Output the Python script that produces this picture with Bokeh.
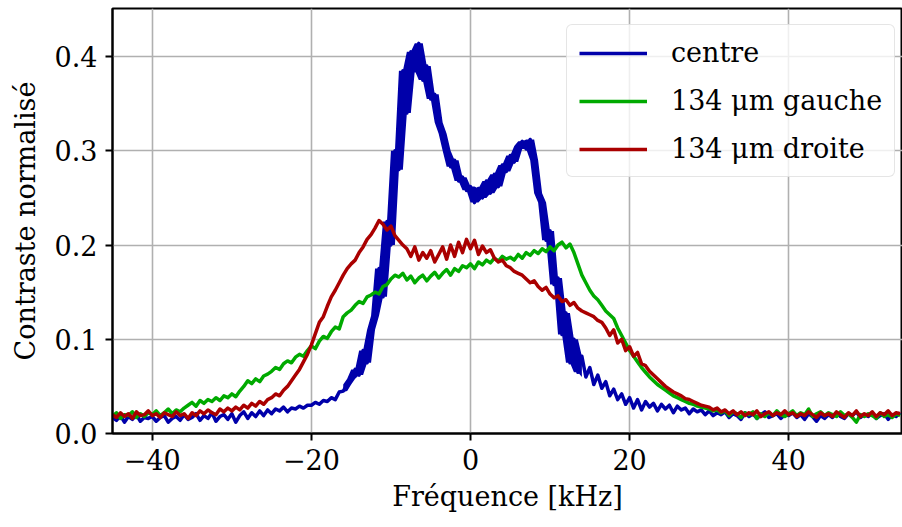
import numpy as np
from bokeh.plotting import figure
from bokeh.models import FixedTicker, ColumnDataSource
from bokeh.embed import file_html
from bokeh.resources import INLINE

# Frequency grid (kHz), sampled every 0.5 kHz from -45 to 54
freq = np.arange(-45.0, 54.001, 0.5)

centre = [
    0.017, 0.014, 0.019, 0.012, 0.018, 0.015, 0.020, 0.013, 0.017, 0.016,
    0.018, 0.013, 0.017, 0.019, 0.012, 0.016, 0.018, 0.014, 0.020, 0.015,
    0.017, 0.021, 0.014, 0.019, 0.016, 0.022, 0.013, 0.018, 0.020, 0.015,
    0.021, 0.012, 0.019, 0.023, 0.016, 0.022, 0.018, 0.024, 0.019, 0.025,
    0.021, 0.026, 0.024, 0.028, 0.023, 0.027, 0.026, 0.029, 0.027, 0.030,
    0.030, 0.033, 0.031, 0.035, 0.034, 0.038, 0.036, 0.044, 0.045, 0.052,
    0.058, 0.068, 0.062, 0.088, 0.075, 0.110, 0.125, 0.175, 0.145, 0.225,
    0.200, 0.300, 0.280, 0.385, 0.340, 0.405, 0.385, 0.414, 0.375, 0.390,
    0.355, 0.360, 0.330, 0.318, 0.300, 0.283, 0.290, 0.268, 0.272, 0.258,
    0.262, 0.245, 0.260, 0.250, 0.268, 0.255, 0.275, 0.262, 0.285, 0.278,
    0.295, 0.288, 0.305, 0.310, 0.302, 0.312, 0.290, 0.255, 0.245, 0.205,
    0.215, 0.158, 0.165, 0.105, 0.128, 0.075, 0.100, 0.065, 0.082, 0.060,
    0.070, 0.052, 0.062, 0.048, 0.055, 0.040, 0.047, 0.036, 0.042, 0.031,
    0.038, 0.027, 0.036, 0.025, 0.034, 0.028, 0.032, 0.024, 0.031, 0.026,
    0.030, 0.022, 0.029, 0.025, 0.027, 0.021, 0.026, 0.023, 0.025, 0.020,
    0.024, 0.019, 0.022, 0.020, 0.023, 0.017, 0.021, 0.019, 0.015, 0.022,
    0.018, 0.021, 0.016, 0.020, 0.023, 0.017, 0.019, 0.021, 0.016, 0.020,
    0.019, 0.022, 0.017, 0.020, 0.015, 0.021, 0.018, 0.013, 0.019, 0.016,
    0.020, 0.017, 0.022, 0.018, 0.016, 0.021, 0.019, 0.023, 0.017, 0.020,
    0.018, 0.022, 0.016, 0.019, 0.021, 0.015, 0.020, 0.018, 0.022,
]

gauche = [
    0.018, 0.022, 0.016, 0.020, 0.019, 0.023, 0.017, 0.021, 0.018, 0.022,
    0.020, 0.024, 0.019, 0.022, 0.026, 0.021, 0.025, 0.023, 0.027, 0.030,
    0.033, 0.029, 0.035, 0.032, 0.036, 0.034, 0.038, 0.035, 0.040, 0.038,
    0.042, 0.039, 0.045, 0.050, 0.056, 0.053, 0.058, 0.055, 0.061, 0.063,
    0.066, 0.070, 0.068, 0.074, 0.077, 0.075, 0.081, 0.084, 0.082, 0.088,
    0.093, 0.090, 0.098, 0.103, 0.101, 0.108, 0.113, 0.111, 0.124, 0.128,
    0.131, 0.136, 0.140, 0.138, 0.145, 0.147, 0.150, 0.148, 0.156, 0.158,
    0.164, 0.168, 0.166, 0.170, 0.163, 0.167, 0.160, 0.165, 0.168, 0.162,
    0.167, 0.171, 0.165, 0.170, 0.174, 0.168, 0.175, 0.172, 0.178, 0.176,
    0.180, 0.175, 0.182, 0.179, 0.184, 0.181, 0.186, 0.183, 0.188, 0.185,
    0.187, 0.184, 0.190, 0.186, 0.192, 0.189, 0.194, 0.191, 0.196, 0.193,
    0.198, 0.194, 0.200, 0.203, 0.197, 0.201, 0.192, 0.180, 0.168, 0.160,
    0.152, 0.146, 0.142, 0.136, 0.130, 0.126, 0.122, 0.112, 0.104, 0.096,
    0.088, 0.082, 0.076, 0.070, 0.065, 0.060, 0.056, 0.052, 0.049, 0.046,
    0.043, 0.040, 0.038, 0.036, 0.034, 0.032, 0.031, 0.029, 0.028, 0.027,
    0.026, 0.024, 0.025, 0.022, 0.024, 0.019, 0.023, 0.021, 0.017, 0.022,
    0.020, 0.023, 0.016, 0.021, 0.018, 0.022, 0.019, 0.024, 0.020, 0.018,
    0.021, 0.024, 0.019, 0.022, 0.020, 0.026, 0.018, 0.021, 0.023, 0.019,
    0.022, 0.020, 0.018, 0.023, 0.019, 0.021, 0.017, 0.012, 0.020, 0.018,
    0.021, 0.019, 0.016, 0.022, 0.018, 0.020, 0.017, 0.021, 0.019,
]

droite = [
    0.020, 0.017, 0.022, 0.018, 0.021, 0.016, 0.023, 0.019, 0.020, 0.024,
    0.019, 0.021, 0.017, 0.022, 0.020, 0.018, 0.023, 0.019, 0.021, 0.016,
    0.022, 0.019, 0.024, 0.021, 0.025, 0.022, 0.020, 0.026, 0.023, 0.027,
    0.024, 0.028, 0.025, 0.030, 0.027, 0.032, 0.029, 0.034, 0.031, 0.036,
    0.038, 0.042, 0.040, 0.046, 0.050, 0.056, 0.062, 0.068, 0.076, 0.084,
    0.094, 0.106, 0.118, 0.124, 0.135, 0.145, 0.152, 0.160, 0.168, 0.175,
    0.180, 0.184, 0.192, 0.198, 0.206, 0.211, 0.218, 0.226, 0.222, 0.216,
    0.220, 0.210, 0.205, 0.200, 0.196, 0.188, 0.198, 0.184, 0.192, 0.186,
    0.194, 0.182, 0.190, 0.198, 0.185, 0.200, 0.188, 0.203, 0.192, 0.206,
    0.196, 0.205, 0.190, 0.199, 0.192, 0.195, 0.186, 0.182, 0.184, 0.178,
    0.176, 0.172, 0.170, 0.168, 0.164, 0.160, 0.162, 0.156, 0.152, 0.155,
    0.148, 0.144, 0.146, 0.140, 0.142, 0.136, 0.139, 0.133, 0.130, 0.128,
    0.126, 0.124, 0.120, 0.118, 0.112, 0.104, 0.110, 0.096, 0.100, 0.088,
    0.092, 0.082, 0.086, 0.074, 0.072, 0.066, 0.062, 0.058, 0.054, 0.050,
    0.047, 0.044, 0.042, 0.040, 0.037, 0.036, 0.034, 0.032, 0.030, 0.029,
    0.028, 0.025, 0.027, 0.023, 0.025, 0.021, 0.024, 0.020, 0.023, 0.019,
    0.022, 0.020, 0.024, 0.018, 0.021, 0.023, 0.019, 0.022, 0.020, 0.024,
    0.020, 0.022, 0.018, 0.021, 0.019, 0.023, 0.020, 0.017, 0.022, 0.019,
    0.021, 0.018, 0.023, 0.020, 0.017, 0.022, 0.019, 0.024, 0.018, 0.021,
    0.019, 0.023, 0.018, 0.022, 0.020, 0.024, 0.019, 0.022, 0.021,
]

series_labels = ["centre", "134 μm gauche", "134 μm droite"]
series_colors = ["#0000aa", "#00aa00", "#aa0000"]

x_ticks = [-40, -20, 0, 20, 40]
x_tick_labels = ["−40", "−20", "0", "20", "40"]
y_ticks = [0.0, 0.1, 0.2, 0.3, 0.4]
y_tick_labels = ["0.0", "0.1", "0.2", "0.3", "0.4"]

# span of the frequencies where the centre trace oscillates fast (drawn as a band)
band_span = (-16.0, 14.0)

assert len(centre) == len(gauche) == len(droite) == len(freq)

# band envelope of the fast oscillation = local min / max of the read samples
c = np.array(centre)
lo = np.minimum(np.minimum(c, np.roll(c, 1)), np.roll(c, -1))
hi = np.maximum(np.maximum(c, np.roll(c, 1)), np.roll(c, -1))
mask = (freq >= band_span[0]) & (freq <= band_span[1])

FONT = "DejaVu Serif"
FS = "27px"
LW = 3.5

p = figure(width=902, height=527, output_backend="svg", toolbar_location=None,
           x_range=(-45, 54.3), y_range=(0, 0.451),
           min_border_left=112, min_border_right=0, min_border_top=8, min_border_bottom=94)

src = ColumnDataSource(dict(x=freq, centre=centre, gauche=gauche, droite=droite))
band = ColumnDataSource(dict(x=freq[mask], lo=lo[mask], hi=hi[mask]))

p.varea(x="x", y1="lo", y2="hi", source=band, fill_color=series_colors[0])
for key, lab, col in zip(["centre", "gauche", "droite"], series_labels, series_colors):
    p.line("x", key, source=src, line_color=col, line_width=LW, line_join="round",
           legend_label=lab)

p.outline_line_color = "black"
p.outline_line_width = 2
p.background_fill_color = "white"
p.border_fill_color = "white"

p.xaxis.ticker = FixedTicker(ticks=x_ticks)
p.xaxis.major_label_overrides = {t: s for t, s in zip(x_ticks, x_tick_labels)}
p.yaxis.ticker = FixedTicker(ticks=y_ticks)
p.yaxis.major_label_overrides = {t: s for t, s in zip(y_ticks, y_tick_labels)}

for ax in (p.xaxis, p.yaxis):
    ax.axis_line_color = "black"
    ax.axis_line_width = 2
    ax.major_tick_line_color = "black"
    ax.major_tick_line_width = 2
    ax.major_tick_out = 7
    ax.major_tick_in = 0
    ax.minor_tick_line_color = None
    ax.major_label_text_font = FONT
    ax.major_label_text_font_size = FS
    ax.major_label_text_color = "black"
    ax.axis_label_text_font = FONT
    ax.axis_label_text_font_size = FS
    ax.axis_label_text_font_style = "normal"
    ax.axis_label_text_color = "black"

p.xaxis.axis_label = "Fréquence [kHz]"
p.yaxis.axis_label = "Contraste normalisé"
p.xaxis.major_label_standoff = 8
p.yaxis.major_label_standoff = 8
p.xaxis.axis_label_standoff = 8
p.yaxis.axis_label_standoff = 11

p.xgrid.ticker = FixedTicker(ticks=x_ticks)
p.ygrid.ticker = FixedTicker(ticks=y_ticks)
for g in (p.xgrid, p.ygrid):
    g.grid_line_color = "#b0b0b0"
    g.grid_line_width = 1.6

lg = p.legend[0]
lg.location = (454, 256)
lg.label_text_font = FONT
lg.label_text_font_size = FS
lg.label_text_color = "black"
lg.glyph_width = 68
lg.glyph_height = 30
lg.label_height = 30
lg.label_standoff = 24
lg.spacing = 17
lg.padding = 12
lg.margin = 0
lg.border_line_color = "#cccccc"
lg.border_line_width = 1.5
lg.background_fill_alpha = 0.8
if "border_radius" in lg.properties():
    lg.border_radius = 6

open("out.html", "w").write(file_html(p, INLINE))
